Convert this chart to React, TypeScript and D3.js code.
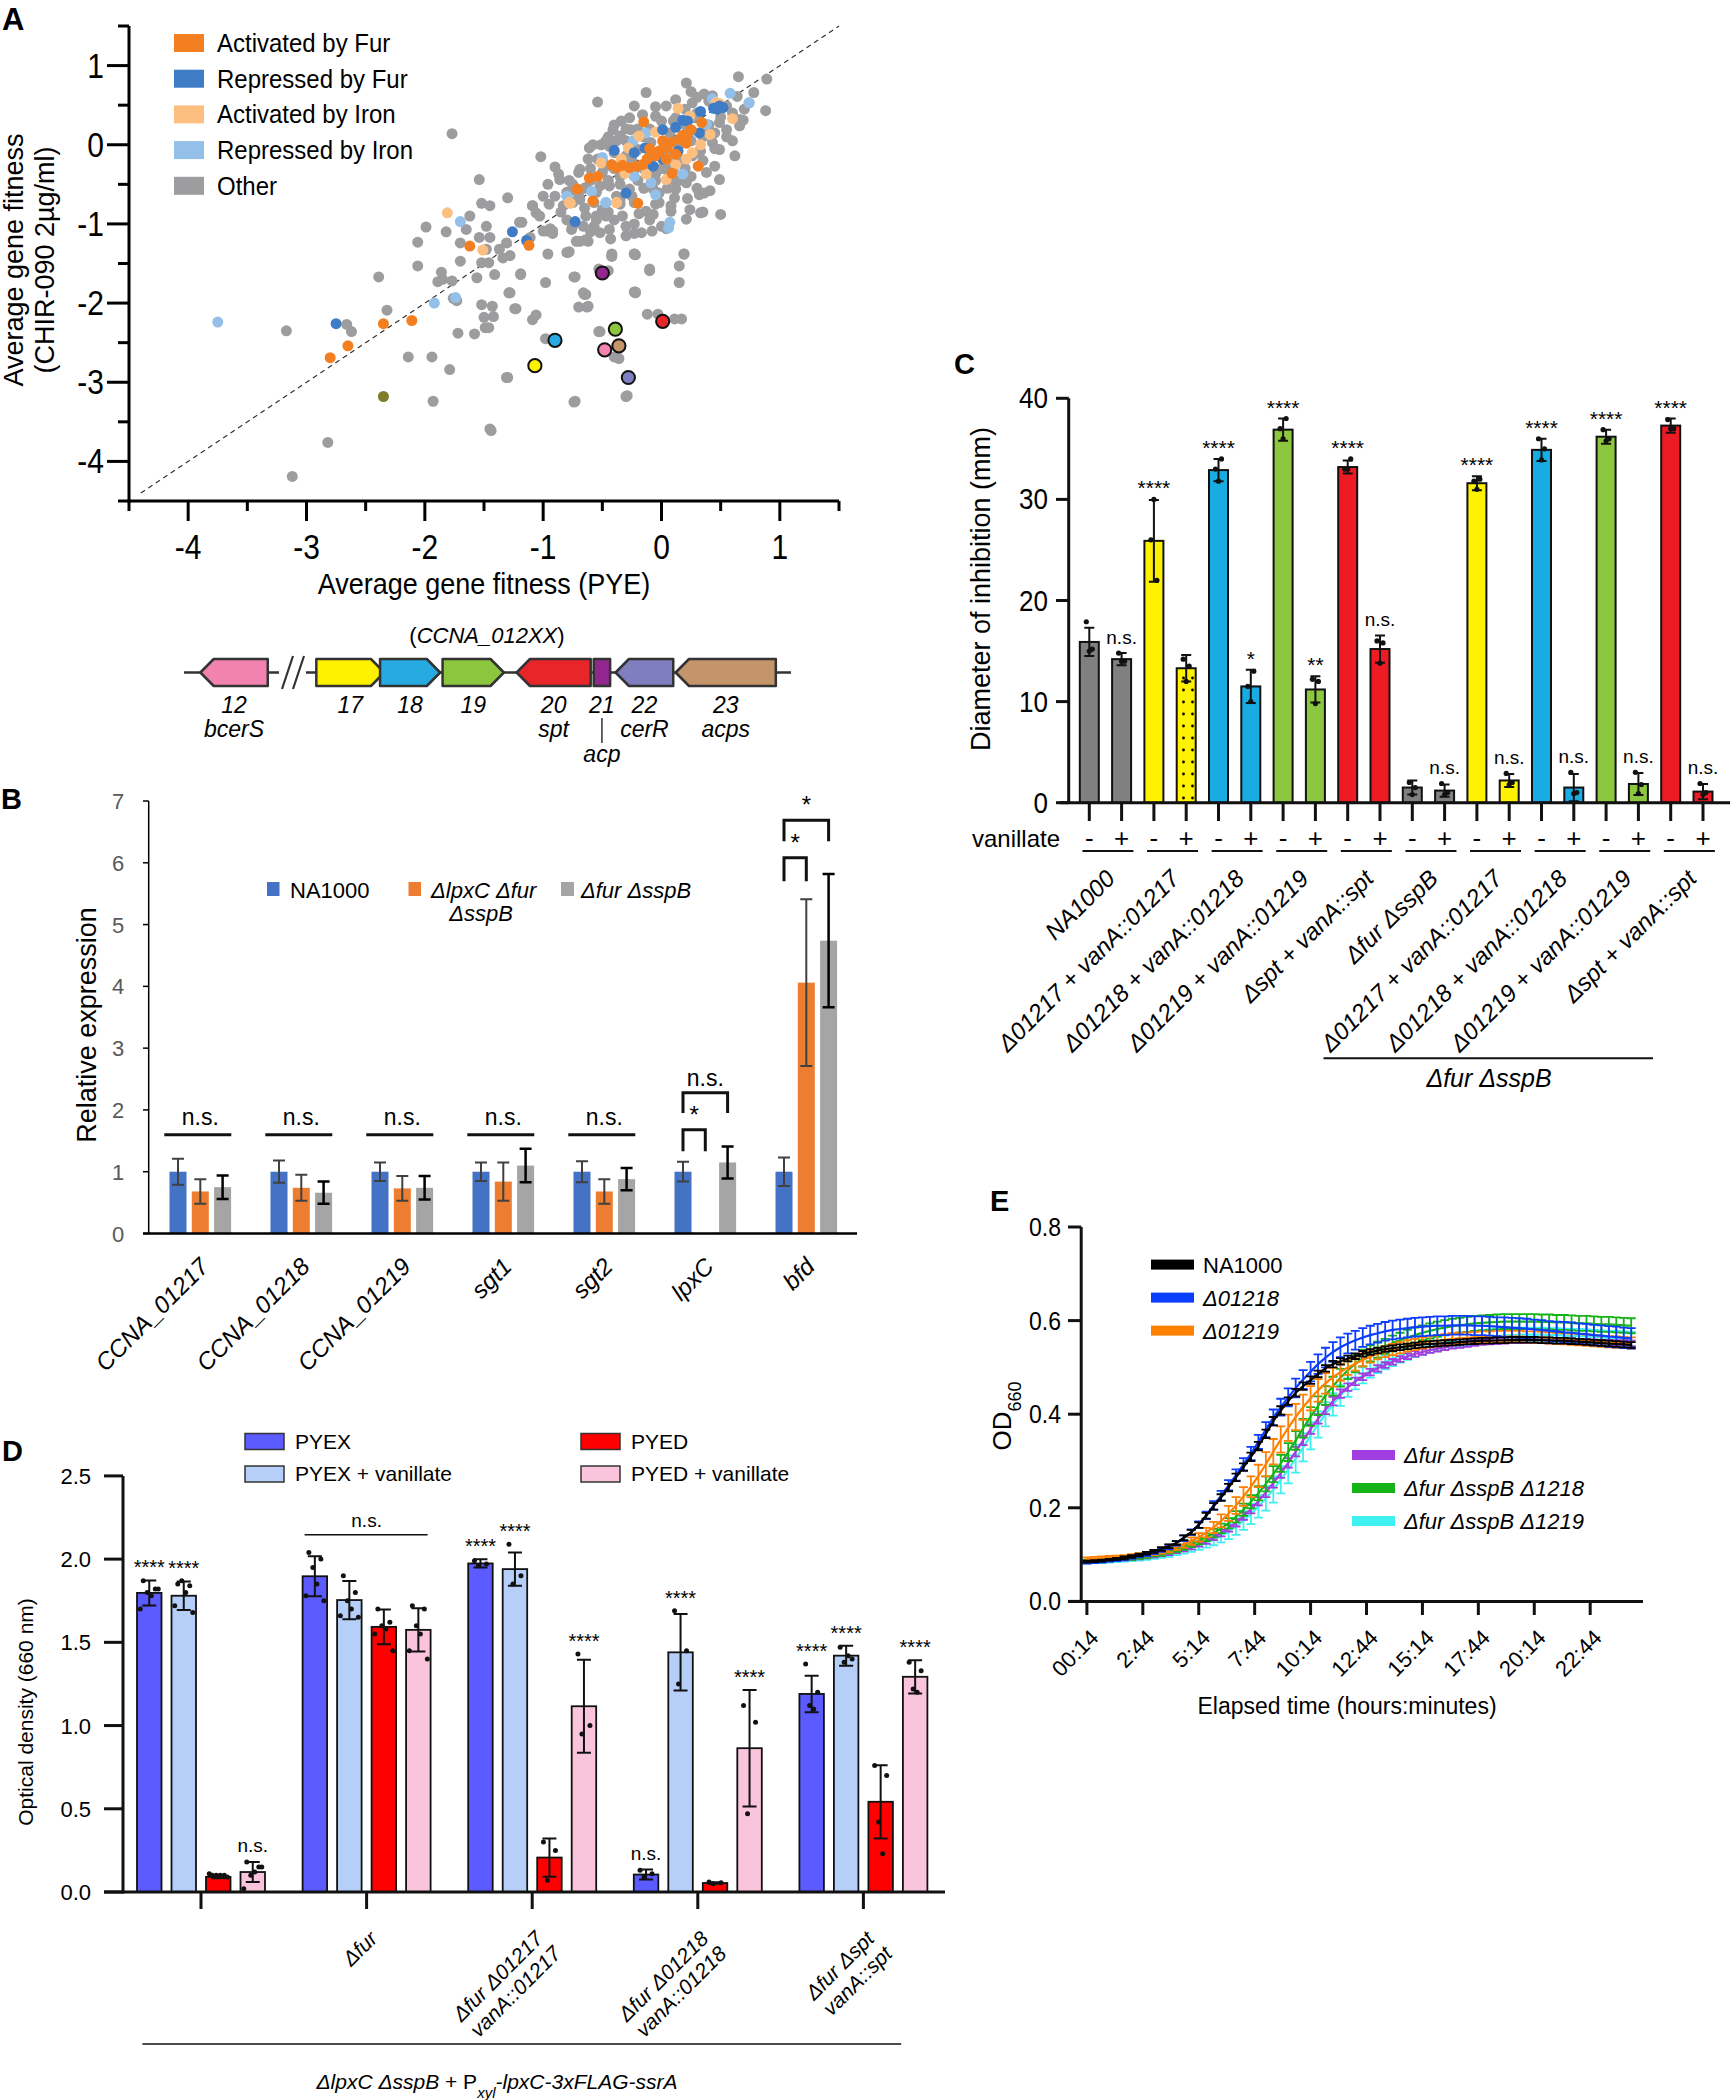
import React from 'react';
import * as d3 from 'd3';

type P = [number, number];
const SANS = "'Liberation Sans', Arial, Helvetica, sans-serif";

// ================= Panel A data =================
const legendACats = ['Activated by Fur', 'Repressed by Fur', 'Activated by Iron', 'Repressed by Iron', 'Other'];
const legendAColors = ['#f47f20', '#3f7cc6', '#fdbf80', '#93bfe9', '#9d9d9f'];
const ticksAMajor = [-4, -3, -2, -1, 0, 1];
const ticksAMinor = [-4.5, -3.5, -2.5, -1.5, -0.5, 0.5, 1.5];

const otherPts: P[] = [
  [-1.77,0.14],[-0.54,0.54],[-0.13,0.66],[0.21,0.78],[0.25,0.67],[0.65,0.86],[0.89,0.83],[0.88,0.43],[0.78,0.66],[0.64,0.61],[0.74,0.53],[0.66,0.32],[0.69,0.31],[0.62,-0.14],[0.50,-0.88],[0.24,-0.82],[0.33,-0.86],[0.36,-0.61],[-0.23,0.49],[-0.05,0.48],[-0.34,0.30],
  [-1.02,-0.15],[-0.90,-0.28],[-0.87,-0.37],[-0.96,-0.50],[-0.78,-0.45],[-0.90,-0.65],[-1.09,-0.77],[-1.06,-0.86],[-1.18,-0.98],[-1.0,-1.09],[-0.92,-1.09],[-0.76,-1.07],[-0.66,-1.03],[-0.79,-1.36],[-0.69,-1.22],[-0.62,-1.22],[-0.52,-1.11],[-0.44,-1.07],[-0.42,-1.38],[-0.23,-1.0],[-0.17,-1.11],[-0.30,-1.15],[-0.23,-1.38],[0,-1.03],[0.19,-1.38],[0.08,-0.84],[0.32,-0.63],[0.11,-0.67],[-0.02,-0.73],[-0.13,-0.84],[-0.07,-0.88],[-0.33,-0.90],[-0.35,-0.69],[-0.50,-0.82],[-0.64,-0.90],[-0.57,-0.73],[-0.69,-0.69],[-0.52,-0.52],[-0.44,-0.52],[-0.27,-0.56],[-0.64,-0.54],[-0.78,-0.59],[-0.83,-0.77],[-1.0,-0.65],[-0.86,-0.44],[-0.69,-0.31],[-0.62,-0.18],[-0.61,-0.04],[-0.51,0.0],[-0.38,0.05],[-0.44,-0.02],[-0.54,-0.18],[-0.47,-0.27],[-0.21,-0.29],[-0.35,-0.40],[-0.07,-0.56],[0.12,-0.56],[0.21,-0.48],[0.38,-0.35],[0.45,-0.27],[0.49,-0.06],[0.43,0.03],[0.60,0.05],[0.55,0.19],[0.66,0.24],[0.49,0.28],[0.36,0.64],[0.43,0.62],[0.55,0.49],[0.12,0.57],[0.04,0.49],[0.26,0.53],[-0.05,0.36],[-0.16,0.38],[-0.27,0.34],[-0.26,0.19],[-0.41,0.19],[-0.47,0.05],[-0.35,0.11],[0.12,0.34],[0.26,0.34],[0.24,0.17],[0.38,0.19],[0.33,-0.08],[0.26,-0.14],[0.15,-0.18],[0.04,-0.31],[-0.05,-0.37],[-0.13,-0.31],[0.01,-0.06],[-0.09,0.03],[-0.20,-0.06],[-0.30,-0.14],[0.18,0.03],[0.07,0.15],[0.21,-0.94],[-0.02,-0.61],[0.10,-0.44],[0.49,-0.44],[-0.23,-0.73],[-0.38,-0.65],[-0.75,-0.73],[-0.55,-0.90],[-0.30,-1.03],
  [-0.8,-0.6],[-0.75,-0.5],[-0.7,-0.65],[-0.65,-0.55],[-0.6,-0.45],[-0.55,-0.6],[-0.5,-0.35],[-0.45,-0.45],[-0.4,-0.3],[-0.35,-0.5],[-0.3,-0.35],[-0.25,-0.2],[-0.2,-0.45],[-0.15,-0.3],[-0.1,-0.15],[-0.05,-0.45],[0.0,-0.3],[0.05,-0.1],[0.1,-0.3],[0.15,0.0],[0.2,-0.3],[0.25,0.05],[0.3,-0.1],[0.35,0.1],[0.4,0.25],[0.45,0.15],[0.5,0.35],[0.3,0.4],[0.2,0.45],[0.1,0.3],[0.0,0.3],[-0.1,0.2],[-0.2,0.2],[-0.3,0.05],[-0.4,-0.1],[-0.5,-0.2],[-0.6,-0.3],[-0.7,-0.35],[-0.65,-0.8],[-0.55,-0.95],[-0.45,-0.85],[-0.35,-0.75],[-0.25,-0.65],[-0.15,-0.55],[-0.05,-0.75],[0.05,-0.55],[0.15,-0.45],[0.25,-0.4],[0.35,-0.2],[0.45,-0.05],[0.55,0.1],[0.6,0.4],[0.4,0.55],[0.3,0.6],[-0.4,0.25],[-0.3,0.2],[-0.45,0.1],[-0.58,0.0],[0.7,0.45],[-0.85,-0.85],[-0.95,-0.75],[-0.8,-0.95],[-0.6,-1.1],[-0.4,-0.95],[-0.1,-0.95],[0.3,-0.55],[0.05,-0.2],[-0.25,-0.05],[0.2,0.25],[-0.15,0.1],
  [-1.54,-0.44],[-1.30,-0.67],[-1.52,-0.74],[-1.45,-0.77],[-1.62,-0.9],[-1.99,-1.04],[-1.82,-1.10],[-2.06,-1.23],[-1.65,-1.07],[-1.70,-1.24],[-1.48,-1.03],[-1.54,-1.17],[-1.45,-1.17],[-1.48,-1.32],[-1.20,-0.98],[-1.37,-1.32],[-1.31,-1.24],[-1.34,-1.43],[-1.28,-1.40],[-1.09,-0.77],[-1.03,-0.90],[-0.97,-1.09],[-0.92,-1.12],[-1.11,-1.17],[-0.78,-1.35],[-0.72,-1.22],[-0.64,-1.20],[-0.57,-1.03],[-0.42,-1.40],[-0.23,-1.38],[-0.10,-1.57],[-0.45,-1.59],[-0.23,-1.86],[-2.06,-1.53],[-2.39,-1.67],[-1.89,-1.73],[-1.85,-1.70],[-1.77,-1.72],[-1.70,-1.47],[-1.86,-1.61],[-1.56,-1.68],[-1.52,-1.49],[-1.46,-1.49],[-1.41,-1.64],[-1.73,-1.97],[-1.76,-1.94],[-1.72,-2.38],[-1.58,-2.39],[-1.52,-2.02],[-1.43,-2.04],[-1.50,-2.18],[-1.42,-2.17],[-1.49,-2.31],[-1.46,-2.31],[-1.29,-1.87],[-1.23,-2.07],[-1.19,-1.63],[-0.98,-1.74],[-1.09,-2.21],[-1.06,-2.15],[-0.98,-2.45],[-1.30,-2.94],[-0.73,-1.67],[-0.73,-3.24],[-0.66,-1.87],[-0.64,-1.89],[-0.70,-2.05],[-0.63,-2.05],[-0.52,-2.36],[-0.40,-2.68],[-0.29,-3.17],[-0.22,-1.86],[-0.12,-2.14],[-0.75,-1.03],[-2.32,-2.09],[-2.66,-2.27],[-2.62,-2.36],[-3.17,-2.35],[-2.14,-2.68],[-1.94,-2.68],[-1.79,-2.84],[-1.93,-3.24],[-1.45,-3.59],[-2.82,-3.76],[-3.12,-4.19],[-0.96,-1.38],[-0.94,-1.06],[-0.80,-1.36],[-0.43,-1.19],[-0.23,-1.12],[-0.47,-0.9],[-0.19,-0.87],[-0.08,-1.09],[0.08,-0.77],[0.35,-0.85],[0.22,-0.68],[0.41,-0.58],[0.04,-1.06],[-0.22,-1.39],[0.19,-1.38],[0.15,-1.53],[0.15,-1.74],[-0.03,-2.14],[0.11,-2.2],[0.17,-2.2],[-0.53,-1.57],[-0.10,-1.59],[-0.42,-1.41],[-0.22,-1.87],[-1.24,-2.07],[-1.28,-1.87],[-1.19,-1.64],[-0.74,-1.67],[-0.65,-1.89],[-0.62,-2.04],[-0.53,-2.36],[-0.36,-2.70],[-0.30,-3.18],[-0.74,-3.25],[-1.31,-2.94],[-1.44,-3.61]
];
const repIronPts: P[] = [[-3.75,-2.24],[-1.92,-2.0],[-1.74,-1.93],[-1.70,-0.97],[-0.47,-0.73],[0.58,0.65],[0.74,0.53],[0.43,0.58],[-0.13,0.15],[-0.24,0.05],[-0.50,-0.16],[-0.23,-0.40],[-0.09,-0.48],[-0.05,-0.63],[0.18,-0.37],[-0.47,-0.73],[-0.59,-0.59],[-0.80,-0.65],[0.07,-0.98],[0.06,-1.05],[0.38,0.26]];
const actIronPts: P[] = [[-1.81,-0.86],[-1.51,-1.33],[-0.77,-0.74],[-0.38,-0.73],[0.14,0.46],[0.24,0.36],[-0.05,0.16],[-0.19,0.11],[-0.28,-0.04],[-0.51,-0.23],[-0.34,-0.18],[-0.31,-0.36],[-0.13,-0.37],[0.04,-0.18],[0.21,-0.18],[0.33,0.0],[0.41,0.13],[0.60,0.33],[0.46,0.53],[0.49,0.52],[0.04,-0.44],[-0.38,-0.73],[-0.78,-0.73],[0.12,-0.25],[0.26,-0.10]];
const repFurPts: P[] = [[-2.75,-2.26],[-1.26,-1.10],[-1.14,-1.21],[-0.73,-0.97],[-0.30,-0.61],[0.33,0.42],[0.18,0.31],[0.12,0.22],[0.01,0.19],[0.44,0.46],[0.49,0.49],[0.52,0.47],[0.32,0.15],[-0.14,-0.04],[-0.23,-0.10],[-0.40,-0.07],[0.01,-0.18],[0.14,-0.08],[-0.07,-0.27],[0.22,0.30],[0.47,0.45]];
const actFurPts: P[] = [[-2.80,-2.69],[-2.65,-2.54],[-2.35,-2.26],[-2.11,-2.22],[-1.62,-1.28],[-1.12,-1.27],[-0.71,-0.56],[-0.58,-0.71],[-0.20,-0.74],[-0.15,0.29],[0.34,0.28],[0.25,0.19],[0.21,0.09],[0.15,0.07],[0.08,0.03],[0.01,0.05],[0.05,-0.04],[-0.02,-0.08],[-0.05,-0.14],[-0.07,-0.10],[-0.12,-0.18],[-0.16,-0.25],[-0.21,-0.27],[-0.27,-0.29],[-0.33,-0.26],[-0.38,-0.29],[-0.42,-0.25],[-0.54,-0.40],[-0.61,-0.42],[0.09,-0.36],[0.31,-0.27],[0.04,-0.18],[0.12,-0.12],[0.21,0.02],[0.18,0.12],[-0.10,-0.05]];
const olivePts: P[] = [[-2.35,-3.18]];
// highlighted genes of the cluster (gene number, PYE fitness, CHIR-090 fitness)
const hlGene = ['21', '20', '19', '18', '12', '23', '17', '22'];
const hlX = [-0.50, 0.01, -0.39, -0.90, -0.48, -0.36, -1.07, -0.28];
const hlY = [-1.62, -2.23, -2.33, -2.47, -2.59, -2.54, -2.79, -2.94];

// gene cluster (CCNA_012XX)
const geneNums = ['12', '17', '18', '19', '20', '21', '22', '23'];
const geneNames = ['bcerS', '', '', '', 'spt', 'acp', 'cerR', 'acps'];
const geneStart = [2.7, 21.8, 32.3, 42.6, 54.8, 67.5, 71.1, 81.0];
const geneEnd = [13.8, 33.0, 42.2, 52.7, 67.0, 70.2, 80.6, 97.5];
const geneDir = [-1, 1, 1, 1, -1, 0, -1, -1];
const geneColors = ['#f283b1', '#fff200', '#27aae1', '#8cc63f', '#e8262a', '#92278f', '#7f7fbf', '#c4956a'];

// ================= Panel B data =================
const genesB = ['CCNA_01217', 'CCNA_01218', 'CCNA_01219', 'sgt1', 'sgt2', 'lpxC', 'bfd'];
const bNA1000 = [1, 1, 1, 1, 1, 1, 1];
const bNA1000Err = [0.21, 0.18, 0.15, 0.15, 0.17, 0.16, 0.23];
const bLpxC = [0.68, 0.74, 0.73, 0.84, 0.68, 0.0, 4.06];
const bLpxCErr = [0.2, 0.21, 0.2, 0.31, 0.2, 0.0, 1.35];
const bFur = [0.75, 0.66, 0.74, 1.10, 0.88, 1.15, 4.74];
const bFurErr = [0.19, 0.18, 0.19, 0.27, 0.18, 0.26, 1.08];
const bColors = ['#4472c4', '#ed7d31', '#a5a5a5'];
const bTicks = [0, 1, 2, 3, 4, 5, 6, 7];
const bGroupSig = ['n.s.', 'n.s.', 'n.s.', 'n.s.', 'n.s.', '', ''];
const bBrackets = [
  { g: 5, a: 0, b: 1, top: 1.68, leg: 1.33, label: '*' },
  { g: 5, a: 0, b: 2, top: 2.28, leg: 1.95, label: 'n.s.' },
  { g: 6, a: 0, b: 1, top: 6.08, leg: 5.70, label: '*' },
  { g: 6, a: 0, b: 2, top: 6.69, leg: 6.35, label: '*' },
];

// ================= Panel C data =================
const cStrains = ['NA1000', 'Δ01217 + vanA::01217', 'Δ01218 + vanA::01218', 'Δ01219 + vanA::01219', 'Δspt + vanA::spt',
  'Δfur ΔsspB', 'Δ01217 + vanA::01217', 'Δ01218 + vanA::01218', 'Δ01219 + vanA::01219', 'Δspt + vanA::spt'];
const cVanillate = ['-', '+'];
const cMeans = [15.9, 14.2, 25.9, 13.3, 32.9, 11.5, 36.9, 11.2, 33.2, 15.2, 1.5, 1.2, 31.6, 2.2, 34.9, 1.5, 36.2, 1.85, 37.3, 1.1];
const cErr = [1.4, 0.6, 4.05, 1.3, 1.1, 1.65, 1.1, 1.3, 0.65, 1.35, 0.7, 0.6, 0.7, 0.65, 1.1, 1.35, 0.7, 1.1, 0.7, 0.75];
const cDots = [[17.9, 15.2, 15.0], [14.8, 14.0, 14.0], [26.0, 22.0, 30.0], [14.2, 13.5, 12.0], [33.0, 34.0, 31.8], [11.5, 13.0, 10.0],
  [37.0, 38.0, 36.0], [12.2, 12.0, 9.8], [33.0, 34.0, 33.0], [16.0, 15.8, 13.8], [2.0, 1.5, 0.8], [1.9, 1.0, 0.8], [31.8, 32.0, 31.0],
  [2.9, 2.0, 1.8], [36.0, 35.0, 33.9], [3.0, 1.0, 0.9], [36.9, 36.0, 35.8], [3.0, 1.8, 0.9], [37.9, 37.0, 37.0], [1.9, 1.0, 0.8]];
const cSig = ['', 'n.s.', '****', '', '****', '*', '****', '**', '****', 'n.s.', '', 'n.s.', '****', 'n.s.', '****', 'n.s.', '****', 'n.s.', '****', 'n.s.'];
const cColors = ['#808080', '#fff200', '#19ace3', '#8dc63f', '#ed1c24'];
const cTicks = [0, 10, 20, 30, 40];

// ================= Panel D data =================
const dGroups = [[''], ['Δfur'], ['Δfur Δ01217', 'vanA::01217'], ['Δfur Δ01218', 'vanA::01218'], ['Δfur Δspt', 'vanA::spt']];
const dConds = ['PYEX', 'PYEX + vanillate', 'PYED', 'PYED + vanillate'];
const dColors = ['#5b5bff', '#b5cff8', '#ff0000', '#fbc4dd'];
const dPYEX = [1.797, 1.897, 1.974, 0.105, 1.19];
const dPYEXErr = [0.075, 0.12, 0.025, 0.03, 0.11];
const dPYEXv = [1.78, 1.754, 1.94, 1.44, 1.42];
const dPYEXvErr = [0.085, 0.115, 0.10, 0.23, 0.06];
const dPYED = [0.091, 1.593, 0.207, 0.054, 0.542];
const dPYEDErr = [0.008, 0.105, 0.115, 0.005, 0.22];
const dPYEDv = [0.12, 1.575, 1.116, 0.864, 1.293];
const dPYEDvErr = [0.06, 0.13, 0.28, 0.35, 0.10];
const dDots = [
  [[1.87, 1.82, 1.80, 1.78, 1.70, 1.82], [1.85, 1.84, 1.87, 1.80, 1.72, 1.68], [0.10, 0.10, 0.10, 0.10, 0.11, 0.09], [0.18, 0.15, 0.10, 0.12, 0.02, 0.15]],
  [[2.04, 2.0, 1.95, 1.85, 1.78, 1.75], [1.90, 1.80, 1.75, 1.70, 1.66, 1.65], [1.70, 1.62, 1.60, 1.58, 1.55, 1.45], [1.72, 1.70, 1.60, 1.55, 1.45, 1.40]],
  [[1.99, 1.97, 1.96], [2.09, 1.90, 1.85], [0.30, 0.25, 0.07], [1.43, 1.00, 0.95]],
  [[0.13, 0.11, 0.09], [1.69, 1.45, 1.25], [0.06, 0.055, 0.05], [1.12, 1.02, 0.47]],
  [[1.37, 1.20, 1.12, 1.10], [1.47, 1.40, 1.38, 1.42], [0.76, 0.70, 0.42, 0.23], [1.38, 1.33, 1.22, 1.20]],
];
const dSig = [['****', '****', '', 'n.s.'], ['', '', '', ''], ['****', '****', '', '****'], ['n.s.', '****', '', '****'], ['****', '****', '', '****']];
const dTicks = [0, 0.5, 1.0, 1.5, 2.0, 2.5];

// ================= Panel E data =================
const eTickLabels = ['00:14', '2:44', '5:14', '7:44', '10:14', '12:44', '15:14', '17:44', '20:14', '22:44'];
const eSeries = ['NA1000', 'Δ01218', 'Δ01219', 'Δfur ΔsspB', 'Δfur ΔsspB Δ1218', 'Δfur ΔsspB Δ1219'];
const eColors = ['#000000', '#0b3dff', '#ff7f00', '#a13ee0', '#16b316', '#3ff0f0'];
const odNA1000 = [.085,.086,.087,.089,.091,.093,.096,.099,.103,.107,.112,.118,.125,.136,.148,.163,.183,.203,.222,.243,.265,.287,.309,.332,.358,.385,.408,.428,.446,.460,.473,.486,.498,.507,.513,.519,.524,.529,.533,.536,.539,.541,.543,.545,.547,.549,.550,.551,.552,.553,.554,.555,.556,.557,.557,.558,.558,.559,.559,.559,.559,.558,.558,.557,.557,.556,.555,.554,.553,.552,.551,.550,.549,.548];
const od01218 = [.083,.084,.085,.087,.089,.091,.094,.097,.101,.105,.110,.116,.124,.135,.148,.164,.184,.205,.226,.248,.270,.293,.316,.341,.367,.393,.415,.436,.456,.474,.491,.507,.521,.533,.543,.551,.558,.564,.569,.573,.577,.580,.582,.584,.586,.587,.588,.589,.589,.590,.590,.590,.589,.589,.588,.587,.586,.585,.584,.583,.581,.580,.578,.577,.575,.574,.572,.571,.569,.568,.566,.565,.563,.562];
const od01219 = [.090,.091,.092,.093,.094,.095,.097,.099,.101,.104,.107,.111,.116,.122,.129,.137,.147,.158,.172,.188,.205,.224,.245,.268,.293,.320,.346,.371,.394,.415,.434,.451,.466,.479,.490,.500,.508,.516,.523,.529,.534,.538,.542,.546,.549,.552,.555,.557,.559,.561,.562,.563,.564,.565,.565,.566,.566,.566,.566,.565,.565,.564,.563,.562,.561,.560,.559,.558,.557,.556,.555,.554,.553,.552];
const odFur = [.085,.085,.086,.087,.088,.089,.091,.093,.095,.097,.100,.103,.107,.111,.116,.122,.129,.137,.146,.156,.168,.182,.197,.214,.233,.253,.274,.296,.320,.344,.368,.390,.410,.428,.444,.458,.470,.480,.490,.498,.505,.512,.518,.524,.529,.533,.537,.540,.543,.546,.548,.550,.552,.554,.555,.556,.557,.558,.558,.558,.558,.558,.557,.557,.556,.556,.555,.555,.554,.553,.553,.552,.552,.551];
const odFur1218 = [.086,.087,.088,.089,.090,.091,.093,.095,.097,.100,.103,.107,.111,.116,.122,.129,.137,.146,.156,.167,.181,.196,.213,.231,.251,.272,.295,.319,.344,.370,.395,.418,.440,.460,.478,.494,.508,.520,.530,.538,.545,.552,.558,.564,.569,.574,.578,.582,.585,.588,.590,.592,.594,.595,.596,.597,.598,.598,.598,.598,.598,.597,.597,.596,.596,.595,.594,.594,.593,.592,.592,.591,.590,.589];
const odFur1219 = [.084,.085,.085,.086,.087,.088,.090,.091,.093,.096,.098,.101,.105,.109,.114,.119,.125,.132,.140,.149,.160,.173,.187,.203,.220,.239,.260,.282,.305,.329,.354,.378,.400,.421,.440,.457,.471,.483,.494,.503,.511,.518,.525,.531,.537,.542,.546,.550,.553,.556,.559,.561,.563,.565,.566,.567,.568,.569,.570,.570,.570,.570,.569,.569,.568,.567,.567,.566,.565,.564,.563,.563,.562,.561];
const sdNA1000 = [.002,.002,.002,.002,.002,.003,.003,.003,.003,.003,.004,.004,.004,.005,.005,.006,.006,.007,.007,.008,.008,.008,.009,.009,.009,.009,.009,.008,.008,.008,.008,.007,.007,.007,.007,.006,.006,.006,.006,.006,.006,.006,.006,.006,.006,.006,.006,.006,.006,.006,.006,.006,.006,.006,.006,.006,.006,.006,.006,.006,.006,.006,.006,.006,.006,.006,.006,.006,.006,.006,.006,.006,.006,.006];
const sd01218 = [.002,.002,.002,.002,.003,.003,.003,.003,.004,.004,.004,.005,.005,.006,.006,.007,.008,.009,.010,.011,.012,.013,.014,.015,.016,.017,.018,.019,.020,.020,.021,.021,.021,.021,.021,.021,.020,.020,.020,.020,.020,.020,.020,.020,.020,.020,.020,.020,.020,.020,.020,.020,.020,.020,.020,.020,.021,.021,.021,.021,.021,.021,.021,.021,.022,.022,.022,.022,.022,.022,.022,.022,.022,.022];
const sd01219 = [.004,.004,.004,.004,.004,.004,.004,.004,.005,.005,.005,.006,.006,.007,.008,.009,.010,.012,.014,.016,.018,.020,.022,.024,.026,.027,.028,.028,.028,.027,.026,.024,.022,.020,.018,.016,.015,.014,.013,.012,.012,.012,.012,.012,.012,.012,.012,.012,.012,.012,.012,.012,.012,.012,.012,.012,.012,.012,.012,.012,.012,.012,.012,.012,.012,.012,.012,.012,.012,.012,.012,.012,.012,.012];
const sdFur = [.002,.002,.002,.002,.002,.002,.003,.003,.003,.003,.003,.004,.004,.004,.005,.005,.006,.006,.007,.007,.008,.008,.009,.009,.010,.010,.010,.010,.010,.010,.010,.010,.010,.009,.009,.008,.008,.007,.007,.007,.006,.006,.006,.006,.006,.006,.006,.006,.006,.006,.006,.006,.006,.006,.006,.006,.006,.006,.006,.006,.006,.006,.006,.006,.006,.006,.006,.006,.006,.006,.006,.006,.006,.006];
const sdFur1218 = [.003,.003,.003,.003,.003,.003,.004,.004,.004,.004,.005,.005,.005,.006,.006,.007,.008,.009,.010,.011,.012,.013,.014,.015,.016,.017,.018,.019,.020,.020,.020,.020,.020,.020,.019,.019,.018,.018,.017,.017,.016,.016,.016,.016,.016,.016,.016,.016,.016,.016,.016,.016,.016,.016,.016,.016,.016,.016,.016,.016,.016,.016,.016,.016,.016,.016,.016,.016,.016,.016,.016,.016,.016,.016];
const sdFur1219 = [.003,.003,.003,.003,.003,.003,.004,.004,.004,.005,.005,.006,.006,.007,.008,.009,.010,.012,.014,.016,.018,.020,.022,.024,.026,.028,.029,.030,.030,.030,.029,.028,.026,.024,.022,.020,.018,.017,.016,.015,.015,.015,.015,.015,.015,.015,.015,.015,.015,.015,.015,.015,.015,.015,.015,.015,.015,.015,.015,.015,.015,.015,.015,.015,.015,.015,.015,.015,.015,.015,.015,.015,.015,.015];
const eStartHours = 14 / 60;   // first reading at 00:14
const eStepHours = 20 / 60;    // one reading every 20 min
const eTicksY = [0, 0.2, 0.4, 0.6, 0.8];

function Panel(props: { label: string; x: number; y: number; size?: number }) {
  return <text x={props.x} y={props.y} fontSize={props.size || 30} fontWeight="bold">{props.label}</text>;
}

const fmtA = (t: number) => (t === 0 ? '0' : t < 0 ? '-' + Math.abs(t) : String(t));

export default function App() {
  // ---------- A ----------
  const ax = d3.scaleLinear().domain([-4.5, 1.5]).range([129, 839]);
  const ay = d3.scaleLinear().domain([-4.5, 1.5]).range([501, 26]);
  const gx = d3.scaleLinear().domain([0, 100]).range([184, 791]);
  const geneColorOf = (g: string) => geneColors[geneNums.indexOf(g)];
  const gTop = 659, gBot = 686, gMid = (gTop + gBot) / 2;
  const tip = 2.2;
  const genePoly = (i: number) => {
    const s = gx(geneStart[i]), e = gx(geneEnd[i]), t = gx(tip) - gx(0);
    if (geneDir[i] === 1) return `${s},${gTop} ${e - t},${gTop} ${e},${gMid} ${e - t},${gBot} ${s},${gBot}`;
    if (geneDir[i] === -1) return `${e},${gTop} ${s + t},${gTop} ${s},${gMid} ${s + t},${gBot} ${e},${gBot}`;
    return `${s},${gTop} ${e},${gTop} ${e},${gBot} ${s},${gBot}`;
  };
  const scatter = (pts: P[], color: string, r = 5.5) =>
    pts.map((p, i) => <circle key={i} cx={ax(p[0])} cy={ay(p[1])} r={r} fill={color} />);

  // ---------- B ----------
  const bx = d3.scaleBand().domain(genesB).range([149.8, 856.8]).padding(0);
  const by = d3.scaleLinear().domain([0, 7]).range([1233.5, 801]);
  const bStep = 22.3, bW = 17;
  const bSeries = [[bNA1000, bNA1000Err], [bLpxC, bLpxCErr], [bFur, bFurErr]];
  const bCenter = (g: number) => (bx(genesB[g]) as number) + bx.bandwidth() / 2;
  const bBarX = (g: number, k: number) => bCenter(g) + (k - 1) * bStep;

  // ---------- C ----------
  const cIdx = d3.range(cMeans.length).map(String);
  const cx = d3.scaleBand().domain(cIdx).range([1073.15, 1719.15]).padding(0);
  const cy = d3.scaleLinear().domain([0, 40]).range([802.7, 398.3]);
  const cBarW = 19;
  const cC = (i: number) => (cx(String(i)) as number) + cx.bandwidth() / 2;

  // ---------- D ----------
  const dIdx = d3.range(dGroups.length).map(String);
  const dx = d3.scaleBand().domain(dIdx).range([118.2, 946.2]).padding(0);
  const dy = d3.scaleLinear().domain([0, 2.5]).range([1892, 1475.9]);
  const dC = (g: number) => (dx(String(g)) as number) + dx.bandwidth() / 2;
  const dStep = 34.5, dW = 24.5;
  const dVals = [[dPYEX, dPYEXErr], [dPYEXv, dPYEXvErr], [dPYED, dPYEDErr], [dPYEDv, dPYEDvErr]];
  const jit = [-6, 6, -2, 2, -9, 9];

  // ---------- E ----------
  const eData = [odNA1000, od01218, od01219, odFur, odFur1218, odFur1219];
  const eSd = [sdNA1000, sd01218, sd01219, sdFur, sdFur1218, sdFur1219];
  const eTime = (i: number) => eStartHours + i * eStepHours;
  const ex = d3.scaleLinear().domain([eStartHours, eStartHours + 73 * eStepHours]).range([1086.9, 1631.2]);
  const ey = d3.scaleLinear().domain([0, 0.8]).range([1601.4, 1227]);
  const eLine = d3.line<number>().x((_, i) => ex(eTime(i))).y(v => ey(v));
  const eOrder = [5, 3, 4, 2, 1, 0];
  const errPath = (vals: number[], sds: number[]) => {
    let p = '';
    vals.forEach((v, i) => {
      const x = ex(eTime(i)), y0 = ey(v - sds[i]), y1 = ey(v + sds[i]);
      p += `M${x},${y0}V${y1}M${x - 4.5},${y0}H${x + 4.5}M${x - 4.5},${y1}H${x + 4.5}`;
    });
    return p;
  };

  return (
    <svg width={1731} height={2100} style={{ position: 'absolute', left: 0, top: 0, background: '#fff' }} fontFamily={SANS}>
      <defs>
        <pattern id="dots" width="9" height="12" patternUnits="userSpaceOnUse">
          <rect width="9" height="12" fill="#fff200" />
          <circle cx="4.5" cy="6" r="1.4" fill="#000" />
        </pattern>
      </defs>
      <rect x={0} y={0} width={1731} height={2100} fill="#fff" />

      {/* ================= A ================= */}
      <Panel label="A" x={2} y={30} size={31} />
      <line x1={ax(-4.4)} y1={ay(-4.4)} x2={ax(1.5)} y2={ay(1.5)} stroke="#333" strokeWidth={1.2} strokeDasharray="5 4" />
      {scatter(otherPts, legendAColors[4])}
      {scatter(olivePts, '#7d7d2b')}
      {scatter(repIronPts, legendAColors[3])}
      {scatter(actIronPts, legendAColors[2])}
      {scatter(repFurPts, legendAColors[1])}
      {scatter(actFurPts, legendAColors[0])}
      {hlGene.map((g, i) => (
        <circle key={g} cx={ax(hlX[i])} cy={ay(hlY[i])} r={6.6} fill={geneColorOf(g)} stroke="#111" strokeWidth={2} />
      ))}
      <line x1={129} y1={ay(1.5)} x2={129} y2={502.5} stroke="#000" strokeWidth={3} />
      <line x1={127.5} y1={501} x2={ax(1.5)} y2={501} stroke="#000" strokeWidth={3} />
      {ticksAMajor.map(t => (
        <g key={'ax' + t}>
          <line x1={ax(t)} x2={ax(t)} y1={501} y2={521} stroke="#000" strokeWidth={3} />
          <text transform={`translate(${ax(t)},559) scale(1,1.15)`} fontSize={30} textAnchor="middle">{fmtA(t)}</text>
          <line x1={107} x2={129} y1={ay(t)} y2={ay(t)} stroke="#000" strokeWidth={3} />
          <text transform={`translate(104,${ay(t) + 12}) scale(1,1.15)`} fontSize={30} textAnchor="end">{fmtA(t)}</text>
        </g>
      ))}
      {ticksAMinor.map(t => (
        <g key={'am' + t}>
          <line x1={ax(t)} x2={ax(t)} y1={501} y2={511} stroke="#000" strokeWidth={3} />
          <line x1={118} x2={129} y1={ay(t)} y2={ay(t)} stroke="#000" strokeWidth={3} />
        </g>
      ))}
      <text transform="translate(484,594) scale(1,1.1)" fontSize={27} textAnchor="middle">Average gene fitness (PYE)</text>
      <g transform="translate(23,260) rotate(-90)">
        <text x={0} y={0} fontSize={27} textAnchor="middle">Average gene fitness</text>
        <text x={0} y={31} fontSize={27} textAnchor="middle">(CHIR-090 2µg/ml)</text>
      </g>
      {legendACats.map((c, i) => (
        <g key={c}>
          <rect x={174} y={34 + i * 35.7} width={30} height={18} fill={legendAColors[i]} />
          <text transform={`translate(217,${52 + i * 35.7}) scale(1,1.1)`} fontSize={24}>{c}</text>
        </g>
      ))}

      {/* gene cluster */}
      <text x={487} y={643} fontSize={22} textAnchor="middle">(<tspan fontStyle="italic">CCNA_012XX</tspan>)</text>
      <line x1={gx(0)} x2={gx(100)} y1={gMid} y2={gMid} stroke="#333" strokeWidth={2.5} />
      <rect x={279} y={650} width={27} height={45} fill="#fff" />
      <line x1={282} y1={689} x2={293} y2={656} stroke="#333" strokeWidth={2.2} />
      <line x1={293} y1={689} x2={304} y2={656} stroke="#333" strokeWidth={2.2} />
      {geneNums.map((g, i) => (
        <polygon key={g} points={genePoly(i)} fill={geneColors[i]} stroke="#333" strokeWidth={2.5} strokeLinejoin="round" />
      ))}
      {geneNums.map((g, i) => {
        const cxg = gx((geneStart[i] + geneEnd[i]) / 2);
        return (
          <g key={'gl' + g} fontStyle="italic" fontSize={23} textAnchor="middle">
            <text x={cxg} y={713}>{g}</text>
            {g === '21' ? (
              <>
                <line x1={cxg} x2={cxg} y1={718} y2={743} stroke="#333" strokeWidth={1.5} />
                <text x={cxg} y={762}>{geneNames[i]}</text>
              </>
            ) : (
              <text x={cxg} y={737}>{geneNames[i]}</text>
            )}
          </g>
        );
      })}

      {/* ================= B ================= */}
      <Panel label="B" x={1} y={809} size={29} />
      <line x1={148.7} x2={148.7} y1={801} y2={1233.5} stroke="#000" strokeWidth={1.5} />
      {bTicks.map(t => (
        <g key={'bt' + t}>
          <line x1={143} x2={148.7} y1={by(t)} y2={by(t)} stroke="#000" strokeWidth={1.5} />
          <text x={118} y={by(t) + 8} fontSize={22} fill="#595959" textAnchor="middle">{t}</text>
        </g>
      ))}
      {genesB.map((g, gi) => (
        <g key={g}>
          {bSeries.map((s, k) => {
            const v = s[0][gi], e = s[1][gi], x = bBarX(gi, k);
            return (
              <g key={k}>
                {v > 0 && <rect x={x - bW / 2} y={by(v)} width={bW} height={by(0) - by(v)} fill={bColors[k]} />}
                {e > 0 && (
                  <path d={`M${x},${by(v - e)}V${by(v + e)}M${x - 6},${by(v - e)}H${x + 6}M${x - 6},${by(v + e)}H${x + 6}`}
                    stroke={k === 2 ? '#000' : '#404040'} strokeWidth={k === 2 ? 2.5 : 2} fill="none" />
                )}
              </g>
            );
          })}
          {bGroupSig[gi] && (
            <g>
              <line x1={bCenter(gi) - 36} x2={bCenter(gi) + 31} y1={1134.8} y2={1134.8} stroke="#111" strokeWidth={3} />
              <text x={bCenter(gi)} y={1125} fontSize={23} textAnchor="middle">{bGroupSig[gi]}</text>
            </g>
          )}
          <text transform={`translate(${bCenter(gi) + 10},${1268}) rotate(-45)`} fontSize={24} fontStyle="italic" textAnchor="end">{g}</text>
        </g>
      ))}
      {bBrackets.map((b, i) => {
        const x1 = bBarX(b.g, b.a), x2 = bBarX(b.g, b.b);
        return (
          <g key={'br' + i}>
            <path d={`M${x1},${by(b.leg)}V${by(b.top)}H${x2}V${by(b.leg)}`} stroke="#111" strokeWidth={3} fill="none" />
            <text x={(x1 + x2) / 2} y={by(b.top) - 7} fontSize={b.label === '*' ? 24 : 23} textAnchor="middle">{b.label}</text>
          </g>
        );
      })}
      <line x1={143} x2={857} y1={1233.5} y2={1233.5} stroke="#000" strokeWidth={2.5} />
      <text transform="translate(96,1025) rotate(-90)" fontSize={27} textAnchor="middle">Relative expression</text>
      <g fontSize={22}>
        <rect x={267} y={882} width={12.5} height={14} fill={bColors[0]} />
        <text x={290} y={898}>NA1000</text>
        <rect x={408.5} y={882} width={12.5} height={14} fill={bColors[1]} />
        <text x={431} y={898} fontStyle="italic">ΔlpxC Δfur</text>
        <text x={481} y={921} fontStyle="italic" textAnchor="middle">ΔsspB</text>
        <rect x={561} y={882} width={13} height={14} fill={bColors[2]} />
        <text x={581} y={898} fontStyle="italic">Δfur ΔsspB</text>
      </g>

      {/* ================= C ================= */}
      <Panel label="C" x={954} y={374} size={29} />
      {cMeans.map((v, i) => {
        const x = cC(i), e = cErr[i];
        const color = cColors[Math.floor(i / 2) % 5];
        const top = Math.max(v + e, ...cDots[i]);
        return (
          <g key={'cb' + i}>
            <rect x={x - cBarW / 2} y={cy(v)} width={cBarW} height={cy(0) - cy(v)} fill={i === 3 ? 'url(#dots)' : color} stroke="#111" strokeWidth={2} />
            {cDots[i].map((dv, j) => <circle key={j} cx={x + [-3, 3, 0][j]} cy={cy(dv)} r={2.6} fill="#111" />)}
            <path d={`M${x},${cy(v - e)}V${cy(v + e)}M${x - 5},${cy(v - e)}H${x + 5}M${x - 5},${cy(v + e)}H${x + 5}`} stroke="#111" strokeWidth={2} fill="none" />
            {cSig[i] && <text x={x} y={cy(top) - (cSig[i].startsWith('*') ? 4 : 9)} fontSize={cSig[i].startsWith('*') ? 21 : 19} textAnchor="middle">{cSig[i]}</text>}
            <line x1={x} x2={x} y1={803} y2={821} stroke="#111" strokeWidth={3} />
            <text x={x} y={847} fontSize={26} textAnchor="middle">{cVanillate[i % 2]}</text>
          </g>
        );
      })}
      <line x1={1068.7} x2={1068.7} y1={398.3} y2={804} stroke="#111" strokeWidth={3} />
      <line x1={1060} x2={1730} y1={802.7} y2={802.7} stroke="#111" strokeWidth={3} />
      {cTicks.map(t => (
        <g key={'ct' + t}>
          <line x1={1056} x2={1068.7} y1={cy(t)} y2={cy(t)} stroke="#111" strokeWidth={3} />
          <text transform={`translate(1048,${cy(t) + 10}) scale(1,1.1)`} fontSize={26} textAnchor="end">{t}</text>
        </g>
      ))}
      <text transform="translate(990,589) rotate(-90)" fontSize={27} textAnchor="middle">Diameter of inhibition (mm)</text>
      <text x={1060} y={847} fontSize={24} textAnchor="end">vanillate</text>
      {cStrains.map((s, p) => {
        const pc = (cC(2 * p) + cC(2 * p + 1)) / 2;
        return (
          <g key={'cs' + p}>
            <line x1={pc - 23} x2={pc + 28} y1={851} y2={851} stroke="#111" strokeWidth={2} />
            <text transform={`translate(${pc + 11},880) rotate(-45)`} fontSize={24} fontStyle="italic" textAnchor="end">{s}</text>
          </g>
        );
      })}
      <line x1={1323.5} x2={1653} y1={1058.3} y2={1058.3} stroke="#111" strokeWidth={2} />
      <text x={1489} y={1087} fontSize={25} fontStyle="italic" textAnchor="middle">Δfur ΔsspB</text>

      {/* ================= D ================= */}
      <Panel label="D" x={2} y={1461} size={29} />
      {dGroups.map((lines, g) => (
        <g key={'dg' + g}>
          {dVals.map((s, k) => {
            const v = s[0][g], e = s[1][g], x = dC(g) + (k - 1.5) * dStep;
            const dots = dDots[g][k];
            const top = Math.max(v + e, ...dots);
            return (
              <g key={k}>
                <rect x={x - dW / 2} y={dy(v)} width={dW} height={dy(0) - dy(v)} fill={dColors[k]} stroke="#111" strokeWidth={1.8} />
                {dots.map((dv, j) => <circle key={j} cx={x + jit[j]} cy={dy(dv)} r={2.5} fill="#111" />)}
                <path d={`M${x},${dy(Math.max(0, v - e))}V${dy(v + e)}M${x - 7},${dy(Math.max(0, v - e))}H${x + 7}M${x - 7},${dy(v + e)}H${x + 7}`} stroke="#111" strokeWidth={2} fill="none" />
                {dSig[g][k] && <text x={x} y={dy(top) - (dSig[g][k] === 'n.s.' ? 10 : 6)} fontSize={dSig[g][k] === 'n.s.' ? 19 : 20} textAnchor="middle">{dSig[g][k]}</text>}
              </g>
            );
          })}
          <line x1={dC(g)} x2={dC(g)} y1={1892} y2={1909} stroke="#111" strokeWidth={3} />
          {lines.map((l, li) => (
            <text key={li} transform={`translate(${dC(g) + 12 + li * 18},${1940 + li * 15}) rotate(-45)`} fontSize={21} fontStyle="italic" textAnchor="end">{l}</text>
          ))}
        </g>
      ))}
      <line x1={dC(1) - 62} x2={dC(1) + 61} y1={1534.8} y2={1534.8} stroke="#111" strokeWidth={1.5} />
      <text x={dC(1)} y={1527} fontSize={19} textAnchor="middle">n.s.</text>
      <line x1={123} x2={123} y1={1475.9} y2={1893.5} stroke="#111" strokeWidth={3} />
      <line x1={104} x2={945} y1={1892} y2={1892} stroke="#111" strokeWidth={3} />
      {dTicks.map(t => (
        <g key={'dt' + t}>
          <line x1={104} x2={123} y1={dy(t)} y2={dy(t)} stroke="#111" strokeWidth={3} />
          <text x={91} y={dy(t) + 8} fontSize={22} textAnchor="end">{t.toFixed(1)}</text>
        </g>
      ))}
      <text transform="translate(33,1712) rotate(-90)" fontSize={21} textAnchor="middle">Optical density (660 nm)</text>
      {dConds.map((c, k) => {
        const lx = k < 2 ? 245 : 581, ly = k % 2 === 0 ? 1433.5 : 1466;
        return (
          <g key={c}>
            <rect x={lx} y={ly} width={39} height={16} fill={dColors[k]} stroke="#333" strokeWidth={1.5} />
            <text x={lx + 50} y={ly + 15} fontSize={21}>{c}</text>
          </g>
        );
      })}
      <line x1={142.4} x2={901.2} y1={2044} y2={2044} stroke="#111" strokeWidth={1.5} />
      <text x={497} y={2089} fontSize={21} textAnchor="middle">
        <tspan fontStyle="italic">ΔlpxC ΔsspB</tspan> + P<tspan fontStyle="italic" fontSize={15} baselineShift="sub">xyl</tspan><tspan fontStyle="italic">-lpxC-3xFLAG-ssrA</tspan>
      </text>

      {/* ================= E ================= */}
      <Panel label="E" x={990} y={1211} size={29} />
      {eOrder.map(si => (
        <g key={'es' + si}>
          <path d={errPath(eData[si], eSd[si])} stroke={eColors[si]} strokeWidth={1.8} fill="none" />
          <path d={eLine(eData[si]) || ''} stroke={eColors[si]} strokeWidth={2.2} fill="none" />
        </g>
      ))}
      <line x1={1081.2} x2={1081.2} y1={1227} y2={1602.8} stroke="#111" strokeWidth={3} />
      <line x1={1068} x2={1643} y1={1601.4} y2={1601.4} stroke="#111" strokeWidth={3} />
      {eTicksY.map(t => (
        <g key={'ey' + t}>
          <line x1={1068} x2={1081.2} y1={ey(t)} y2={ey(t)} stroke="#111" strokeWidth={3} />
          <text transform={`translate(1061,${ey(t) + 9}) scale(1,1.1)`} fontSize={23} textAnchor="end">{t.toFixed(1)}</text>
        </g>
      ))}
      {eTickLabels.map((l, k) => {
        const x = ex(eStartHours + k * 2.5);
        return (
          <g key={'ex' + k}>
            <line x1={x} x2={x} y1={1601.4} y2={1615} stroke="#111" strokeWidth={3} />
            <text transform={`translate(${x + 13},1639) rotate(-45)`} fontSize={22} textAnchor="end">{l}</text>
          </g>
        );
      })}
      <text x={1347} y={1714} fontSize={23} textAnchor="middle">Elapsed time (hours:minutes)</text>
      <text transform="translate(1011,1416) rotate(-90)" fontSize={26} textAnchor="middle">OD<tspan fontSize={18} baselineShift="sub">660</tspan></text>
      {eSeries.map((s, k) => {
        const lx = k < 3 ? 1151 : 1352, ly = k < 3 ? 1264.6 + k * 33 : 1455 + (k - 3) * 33;
        return (
          <g key={s}>
            <rect x={lx} y={ly - 5} width={43} height={10} fill={eColors[k]} />
            <text x={lx + 52} y={ly + 8} fontSize={22} fontStyle={k === 0 ? 'normal' : 'italic'}>{s}</text>
          </g>
        );
      })}
    </svg>
  );
}
